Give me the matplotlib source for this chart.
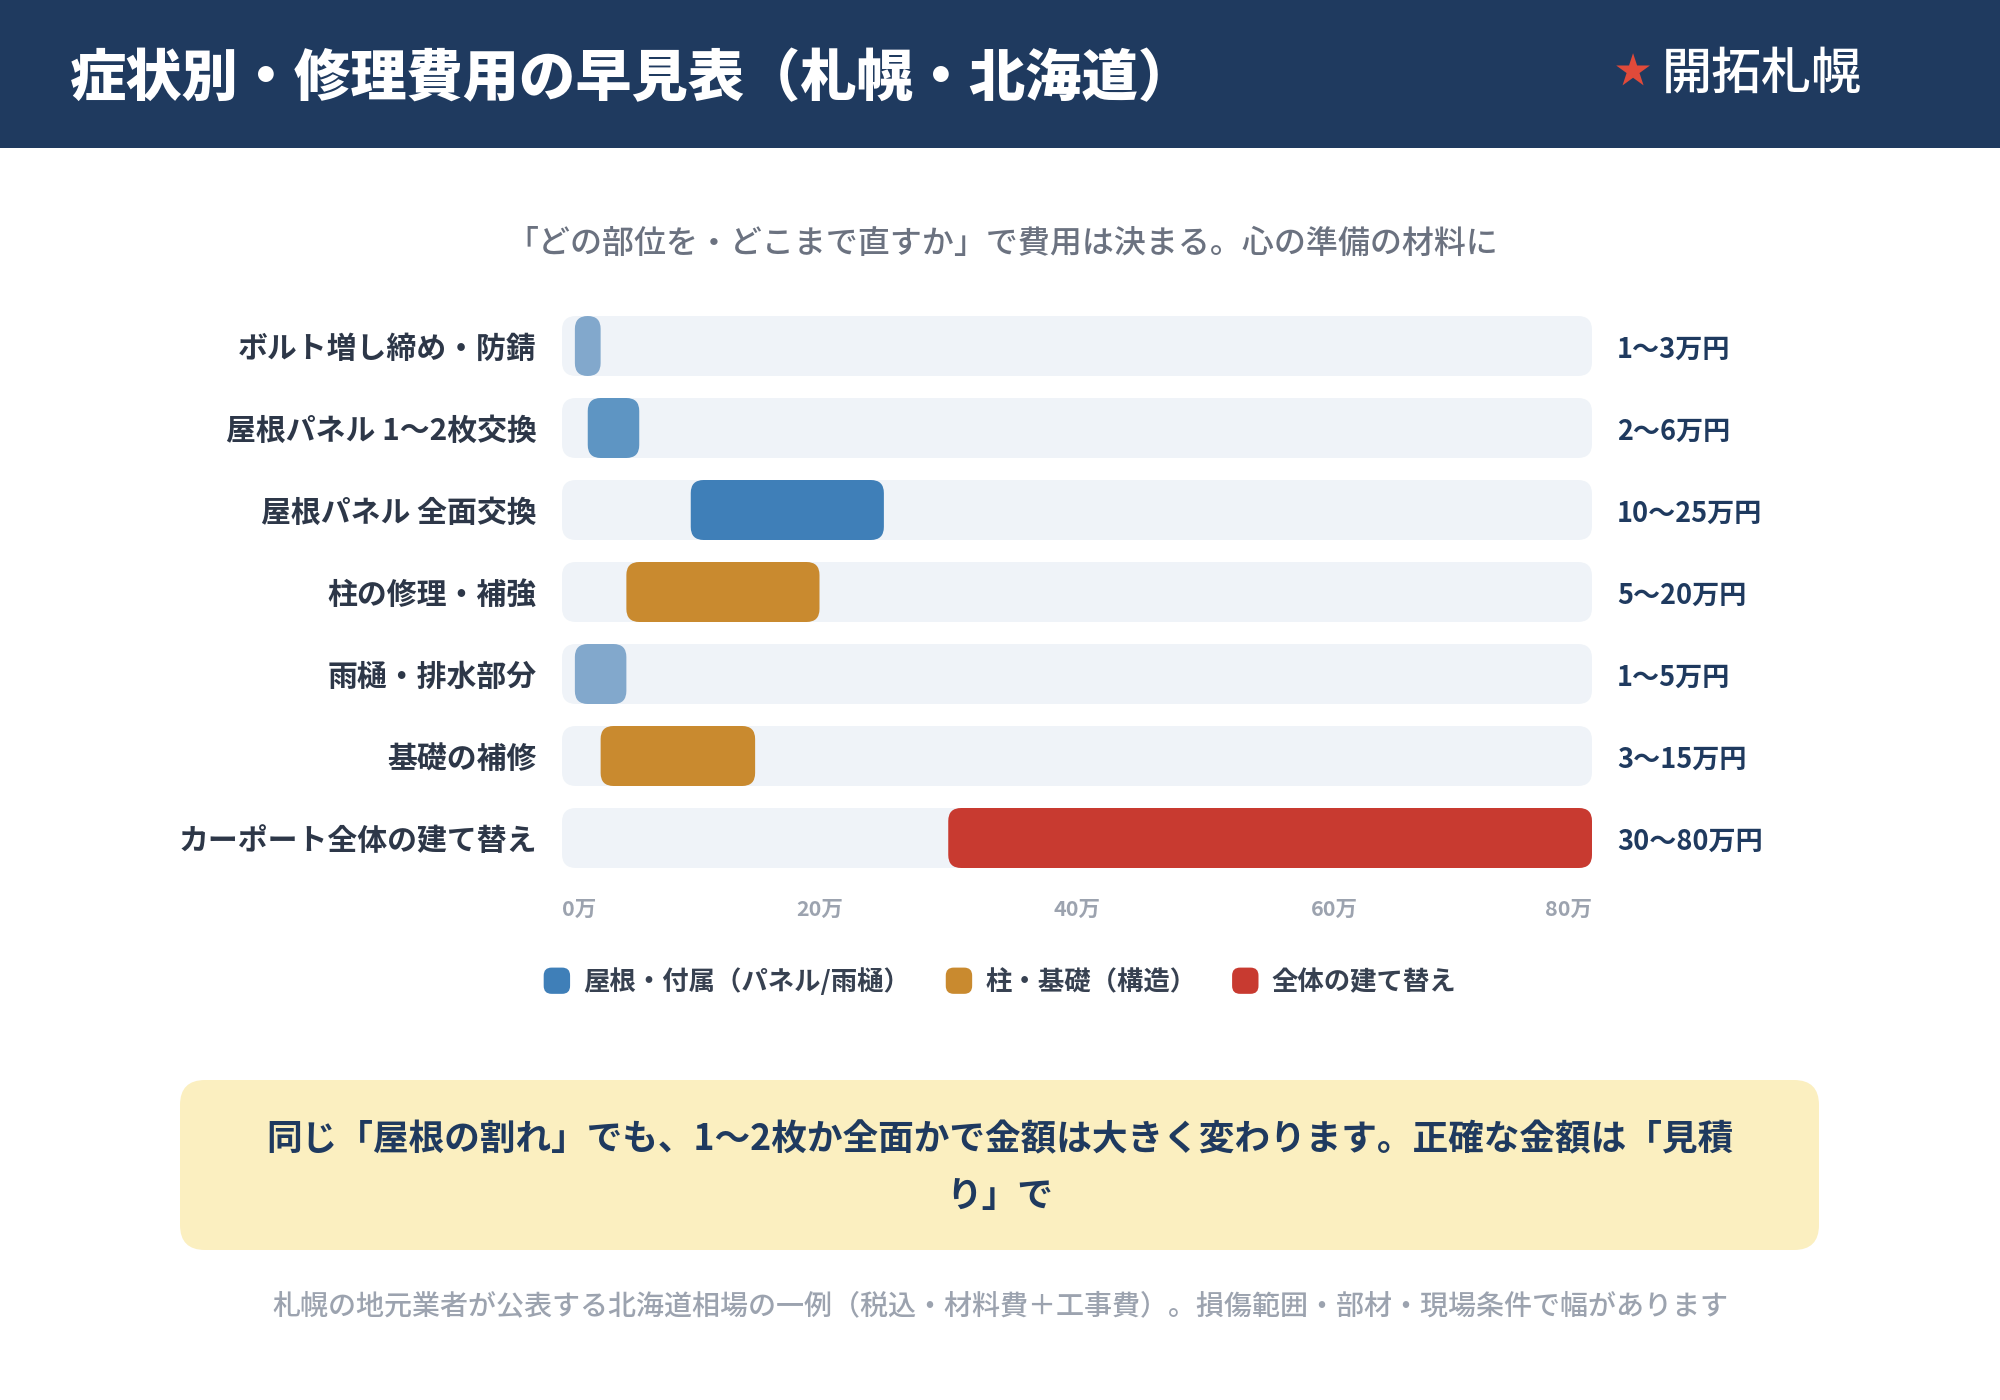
import matplotlib
matplotlib.use("Agg")
import matplotlib.pyplot as plt
from matplotlib.patches import FancyBboxPatch, Rectangle, Patch
from matplotlib.legend_handler import HandlerPatch

plt.rcParams['font.family'] = ['Noto Sans CJK JP', 'DejaVu Sans']

# ---------------- data ----------------
categories = ["ボルト増し締め・防錆", "屋根パネル 1〜2枚交換", "屋根パネル 全面交換",
              "柱の修理・補強", "雨樋・排水部分", "基礎の補修", "カーポート全体の建て替え"]
low_values = [1, 2, 10, 5, 1, 3, 30]
high_values = [3, 6, 25, 20, 5, 15, 80]
bar_colors = ["#82a8cc", "#5e95c3", "#3f7fb8", "#c98a2f", "#82a8cc", "#c98a2f", "#c83a30"]
x_ticks = [0, 20, 40, 60, 80]
x_tick_labels = ["0万", "20万", "40万", "60万", "80万"]
legend_labels = ["屋根・付属（パネル/雨樋）", "柱・基礎（構造）", "全体の建て替え"]
legend_colors = ["#3f7fb8", "#c98a2f", "#c83a30"]

title = "症状別・修理費用の早見表（札幌・北海道）"
brand = "開拓札幌"
subtitle = "「どの部位を・どこまで直すか」で費用は決まる。心の準備の材料に"
callout = "同じ「屋根の割れ」でも、1〜2枚か全面かで金額は大きく変わります。正確な金額は「見積\nり」で"
footer = "札幌の地元業者が公表する北海道相場の一例（税込・材料費＋工事費）。損傷範囲・部材・現場条件で幅があります"

NAVY = "#1f3a5f"
TRACK = "#eff3f8"

W, H = 2000, 1400
fig = plt.figure(figsize=(20, 14), dpi=100)
fig.patch.set_facecolor("white")

# header band
fig.add_artist(Rectangle((0, 1 - 148 / H), 1, 148 / H, transform=fig.transFigure,
                         facecolor=NAVY, edgecolor="none", zorder=0))
fig.text(70 / W, 1 - 80 / H, title, color="white", fontsize=40.5, fontweight="heavy",
         ha="left", va="center")
fig.text(1633 / W, 1 - 73 / H, "★", color="#e04a3a", fontsize=26, ha="center", va="center")
fig.text(1662 / W, 1 - 75 / H, brand, color="white", fontsize=36, fontweight="medium",
         ha="left", va="center")

# subtitle
fig.text(1002 / W, 1 - 244 / H, subtitle, color="#6b7280", fontsize=23,
         fontweight="medium", ha="center", va="center")

# ---------------- chart axes ----------------
ax_left, ax_right = 562, 1592
row_px = 82
n = len(categories)
ax_top = 346 - row_px / 2
ax_bottom = ax_top + row_px * n
ax = fig.add_axes([ax_left / W, 1 - ax_bottom / H, (ax_right - ax_left) / W, (ax_bottom - ax_top) / H])
ax.set_xlim(0, 80)
ax.set_ylim(n - 0.5, -0.5)
ax.set_facecolor("none")
for s in ax.spines.values():
    s.set_visible(False)

xpp = 80 / (ax_right - ax_left)   # x data per pixel
ypp = 1 / row_px                  # y data per pixel
maspect = ypp / xpp
bar_h = 60 * ypp


def rbox(x0, x1, yc, color, r_px, z):
    w = x1 - x0
    w_px = w / xpp
    r = min(r_px, w_px / 2, 30) * xpp
    p = FancyBboxPatch((x0, yc - bar_h / 2), w, bar_h,
                       boxstyle=f"round,pad=0,rounding_size={r}",
                       mutation_aspect=maspect, facecolor=color, edgecolor="none",
                       zorder=z, clip_on=False)
    ax.add_patch(p)


for i, (lo, hi, c) in enumerate(zip(low_values, high_values, bar_colors)):
    rbox(0, 80, i, TRACK, 14, 1)
    rbox(lo, hi, i, c, 13, 2)
    ax.annotate(f"{lo}〜{hi}万円", xy=(80, i), xytext=(25, -4), textcoords="offset pixels",
                ha="left", va="center", fontsize=19.5, fontweight="bold", color=NAVY)

ax.set_yticks(range(n))
ax.set_yticklabels(categories, fontsize=21.5, fontweight="bold", color="#2d3748")
ax.tick_params(axis="y", length=0, pad=18)
ax.set_xticks(x_ticks)
ax.set_xticklabels(x_tick_labels, fontsize=15.5, color="#9ca3af", fontweight="bold")
ax.tick_params(axis="x", length=0, pad=14)
xt = ax.get_xticklabels()
xt[0].set_ha("left")
xt[-1].set_ha("right")


# ---------------- legend ----------------
class RoundHandler(HandlerPatch):
    def create_artists(self, legend, orig_handle, xdescent, ydescent, width, height, fontsize, trans):
        p = FancyBboxPatch((-xdescent, -ydescent - height * 0.15), width, height * 1.3,
                           boxstyle=f"round,pad=0,rounding_size={width * 0.3}",
                           facecolor=orig_handle.get_facecolor(), edgecolor="none", transform=trans)
        return [p]


handles = [Patch(facecolor=c, label=l) for c, l in zip(legend_colors, legend_labels)]
leg = fig.legend(handles=handles, loc="center", bbox_to_anchor=(0.5, 1 - 982 / H), ncol=3,
                 frameon=False, prop={"size": 19, "weight": "bold"},
                 handlelength=1.0, handleheight=0.8, handletextpad=0.5, columnspacing=1.35,
                 handler_map={Patch: RoundHandler()})
for t in leg.get_texts():
    t.set_color("#374151")

# ---------------- callout ----------------
fig.add_artist(FancyBboxPatch((1.80, (H - 1250) / 100), 16.39, 1.70,
                              boxstyle="round,pad=0,rounding_size=0.25",
                              transform=fig.dpi_scale_trans, facecolor="#fbefc0",
                              edgecolor="none", zorder=0))
fig.text(1000 / W, 1 - 1168 / H, callout, color=NAVY, fontsize=25.7, fontweight="bold",
         ha="center", va="center", linespacing=1.68, multialignment="center")

# footer
fig.text(1000 / W, 1 - 1306 / H, footer, color="#9ca3af", fontsize=20.2, fontweight="medium",
         ha="center", va="center")

fig.savefig("out.png", dpi=100, facecolor="white")
